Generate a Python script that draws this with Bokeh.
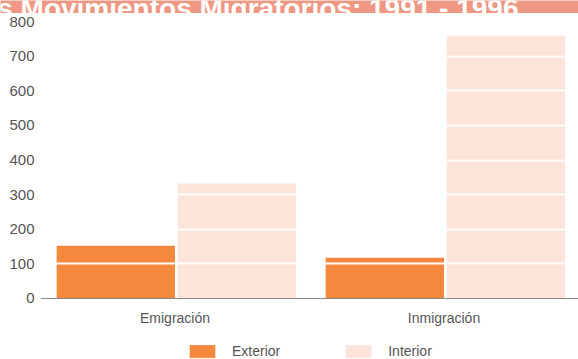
from bokeh.plotting import figure
from bokeh.models import (FactorRange, Range1d, FixedTicker, ColumnDataSource,
                          Legend, LegendItem, Label)
from bokeh.transform import dodge
from bokeh.embed import file_html
from bokeh.resources import INLINE

# ---- data ----
categories = ["Emigración", "Inmigración"]
series_names = ["Exterior", "Interior"]
exterior = [152, 118]
interior = [332, 759]
y_ticks = [0, 100, 200, 300, 400, 500, 600, 700, 800]
title_text = "Los Movimientos Migratorios: 1991 - 1996"

# ---- style ----
C_EXT = "#F6883E"
C_INT = "#FDE4DA"
C_BANNER = "#EE9783"
FONT = "Liberation Sans"
TXT = "#555555"
W, H = 578, 359
BANNER_H = 13

# ---- cropped banner (only the lower part of the title shows) ----
pb = figure(width=W, height=BANNER_H, output_backend="svg", toolbar_location=None,
            x_range=Range1d(0, W), y_range=Range1d(0, BANNER_H),
            x_axis_location=None, y_axis_location=None, min_border=0,
            outline_line_color=None, background_fill_color=C_BANNER,
            border_fill_color=C_BANNER)
pb.xgrid.visible = False
pb.ygrid.visible = False
pb.add_layout(Label(x=518, y=5.5, text=title_text, text_align="right",
                    text_baseline="alphabetic", text_color="white",
                    text_font=FONT, text_font_style="bold",
                    text_font_size="28px"))
pb.styles = {"position": "absolute", "top": "0px", "left": "0px"}

# ---- main chart ----
src = ColumnDataSource(dict(cat=categories, ext=exterior, inn=interior))

# frame reaches the bottom of the page so that the legend below the
# axis is not clipped; the x axis sits at y = 0
p = figure(width=W, height=H - BANNER_H, output_backend="svg",
           toolbar_location=None,
           x_range=FactorRange(factors=categories),
           y_range=Range1d(-176.2, 808.7),
           min_border_left=40, min_border_right=0, min_border_top=18 - BANNER_H,
           min_border_bottom=0, outline_line_color=None,
           background_fill_color="white", border_fill_color="white")
p.styles = {"position": "absolute", "top": f"{BANNER_H}px", "left": "0px"}

r_ext = p.vbar(x=dodge("cat", -0.22, range=p.x_range), top="ext", width=0.44,
               source=src, fill_color=C_EXT, line_color=None)
r_int = p.vbar(x=dodge("cat", 0.23, range=p.x_range), top="inn", width=0.44,
               source=src, fill_color=C_INT, line_color=None)

# grid: white lines drawn over the bars
p.xgrid.visible = False
p.ygrid.ticker = FixedTicker(ticks=y_ticks[1:])
p.ygrid.grid_line_color = "white"
p.ygrid.grid_line_width = 2
p.ygrid.level = "overlay"

# y axis
p.yaxis.ticker = FixedTicker(ticks=y_ticks)
p.yaxis.axis_line_color = None
p.yaxis.major_tick_line_color = None
p.yaxis.minor_tick_line_color = None
p.yaxis.major_tick_out = 0
p.yaxis.major_tick_in = 0
p.yaxis.major_label_standoff = 6
p.yaxis.major_label_text_font = FONT
p.yaxis.major_label_text_font_size = "15px"
p.yaxis.major_label_text_color = TXT

# x axis at y = 0
p.xaxis.fixed_location = 0
p.xaxis.axis_line_color = "#8a8a8a"
p.xaxis.axis_line_width = 1
p.xaxis.major_tick_line_color = None
p.xaxis.major_tick_out = 0
p.xaxis.major_tick_in = 0
p.xaxis.major_label_standoff = 12
p.xaxis.major_label_text_font = FONT
p.xaxis.major_label_text_font_size = "14px"
p.xaxis.major_label_text_color = TXT

# legend under the axis
legend = Legend(items=[LegendItem(label=series_names[0], renderers=[r_ext]),
                       LegendItem(label=series_names[1], renderers=[r_int])],
                orientation="horizontal", location=(146, 0),
                glyph_width=32, glyph_height=16, label_standoff=14, spacing=62,
                padding=0, margin=0, border_line_color=None,
                background_fill_alpha=0, label_text_font=FONT,
                label_text_font_size="14px", label_text_color=TXT,
                label_height=16)
p.add_layout(legend, "center")

open("out.html", "w").write(file_html([pb, p], INLINE))
